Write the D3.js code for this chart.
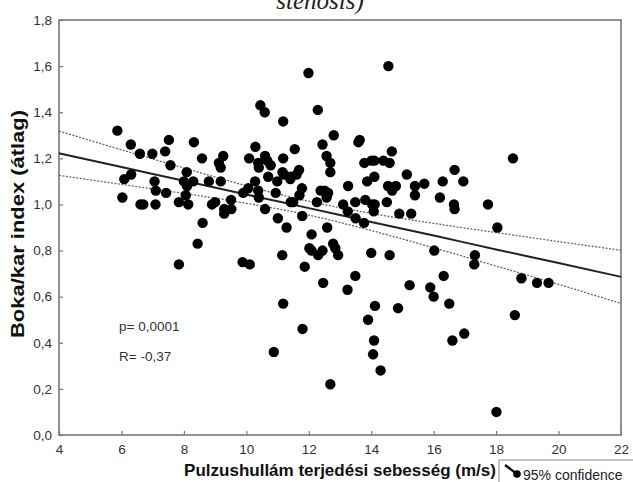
<!DOCTYPE html>
<html>
<head>
<meta charset="utf-8">
<script src="https://cdn.jsdelivr.net/npm/d3@7"></script>
<style>
  body { margin: 0; background: #fff; }
  svg { display: block; }
</style>
</head>
<body>
<script>
// scatter values (velocity m/s, ankle/brachial index)
const pwv = [11.99, 10.45, 10.59, 12.29, 11.18, 5.87, 12.80, 6.30, 7.52, 8.32,
  6.59, 6.99, 7.40, 10.29, 12.44, 13.63, 13.59, 11.55, 8.58, 9.26,
  9.12, 10.09, 10.60, 11.18, 12.57, 7.57, 9.18, 10.38, 10.40, 10.67,
  10.78, 12.69, 12.69, 6.31, 6.09, 8.09, 10.70, 11.16, 11.20, 11.41,
  11.61, 11.69, 11.41, 7.06, 8.00, 8.30, 8.80, 9.18, 10.28, 10.99,
  8.10, 7.10, 7.43, 8.06, 9.90, 10.06, 10.38, 10.40, 10.94, 11.78,
  11.70, 12.38, 12.51, 12.62, 12.57, 13.26, 6.03, 6.61, 6.70, 7.09,
  7.84, 8.14, 8.90, 9.00, 9.51, 9.29, 9.52, 9.29, 10.60, 11.01,
  11.42, 11.50, 11.79, 12.26, 13.10, 13.49, 13.25, 13.50, 8.60, 8.44,
  11.29, 12.09, 12.59, 13.78, 14.01, 14.10, 14.39, 14.59, 14.66, 14.55,
  18.54, 15.14, 14.10, 13.87, 14.54, 14.79, 14.67, 15.40, 15.70, 15.40,
  16.29, 16.67, 16.95, 16.20, 16.65, 16.67, 17.74, 13.81, 14.03, 14.11,
  14.08, 14.50, 14.90, 15.28, 13.77, 18.04, 12.02, 12.09, 12.44, 12.78,
  12.85, 12.94, 12.30, 11.15, 7.84, 9.88, 10.11, 11.87, 13.49, 12.46,
  13.24, 11.18, 11.80, 10.88, 12.69, 14.00, 14.59, 16.02, 17.32, 17.30,
  15.23, 15.89, 16.00, 16.32, 18.81, 19.31, 19.68, 14.12, 14.86, 16.50,
  13.90, 18.60, 14.09, 14.06, 16.98, 16.60, 14.30, 18.01];
const abi = [1.57, 1.43, 1.40, 1.41, 1.36, 1.32, 1.30, 1.26, 1.28, 1.27,
  1.22, 1.22, 1.23, 1.25, 1.26, 1.28, 1.27, 1.24, 1.20, 1.21,
  1.18, 1.20, 1.21, 1.20, 1.21, 1.17, 1.16, 1.18, 1.16, 1.19,
  1.17, 1.18, 1.14, 1.13, 1.11, 1.14, 1.12, 1.14, 1.13, 1.12,
  1.13, 1.15, 1.11, 1.10, 1.10, 1.10, 1.10, 1.10, 1.10, 1.10,
  1.08, 1.06, 1.05, 1.04, 1.05, 1.07, 1.06, 1.03, 1.05, 1.07,
  1.04, 1.06, 1.06, 1.05, 1.03, 1.08, 1.03, 1.00, 1.00, 1.00,
  1.01, 1.00, 1.00, 1.01, 1.02, 0.98, 0.98, 0.96, 0.98, 0.94,
  1.01, 1.01, 0.95, 1.01, 1.00, 1.01, 0.97, 0.94, 0.92, 0.83,
  0.90, 0.87, 0.90, 1.18, 1.19, 1.19, 1.19, 1.18, 1.23, 1.60,
  1.20, 1.13, 1.12, 1.10, 1.08, 1.08, 1.06, 1.08, 1.09, 1.04,
  1.10, 1.15, 1.10, 1.03, 1.00, 0.98, 1.00, 1.02, 1.00, 1.00,
  0.97, 1.01, 0.96, 0.96, 0.92, 0.90, 0.81, 0.80, 0.80, 0.83,
  0.81, 0.78, 0.78, 0.78, 0.74, 0.75, 0.74, 0.73, 0.69, 0.66,
  0.63, 0.57, 0.46, 0.36, 0.22, 0.79, 0.78, 0.80, 0.78, 0.74,
  0.65, 0.64, 0.60, 0.69, 0.68, 0.66, 0.66, 0.56, 0.55, 0.57,
  0.50, 0.52, 0.41, 0.35, 0.44, 0.41, 0.28, 0.10];

// regression line and 95% band
const fitX = [4, 6, 8, 10, 12, 14, 16, 18, 20, 22];
const fitY = [1.222, 1.162, 1.103, 1.043, 0.984, 0.924, 0.865, 0.805, 0.746, 0.686];
const ciUpper = [1.318, 1.237, 1.158, 1.081, 1.014, 0.961, 0.918, 0.878, 0.839, 0.801];
const ciLower = [1.126, 1.087, 1.048, 1.005, 0.954, 0.887, 0.812, 0.733, 0.653, 0.571];

const xTicks = [4, 6, 8, 10, 12, 14, 16, 18, 20, 22];
const yTicks = [0, 0.2, 0.4, 0.6, 0.8, 1.0, 1.2, 1.4, 1.6, 1.8];

const width = 633, height = 482;
const margin = {left: 59, right: 12, top: 20, bottom: 47};
const font = "'Liberation Sans', Arial, sans-serif";
const comma = d => d3.format(".1f")(d).replace(".", ",");

const svg = d3.select("body").append("svg")
    .attr("width", width).attr("height", height);

const x = d3.scaleLinear().domain([4, 22]).range([margin.left, width - margin.right]);
const y = d3.scaleLinear().domain([0, 1.8]).range([height - margin.bottom, margin.top]);

// caption of the figure, its upper half is cut off by the page edge
svg.append("text")
    .attr("x", 320).attr("y", 9)
    .attr("text-anchor", "middle")
    .style("font", "italic 25px 'Liberation Serif', 'Times New Roman', serif")
    .style("fill", "#222")
    .text("stenosis)");

let xAxis = svg.append("g")
    .attr("transform", `translate(0, ${y(0)})`)
    .call(d3.axisBottom(x).tickValues(xTicks).tickSize(-4).tickPadding(9).tickFormat(d3.format("d")));
let yAxis = svg.append("g")
    .attr("transform", `translate(${x(4)}, 0)`)
    .call(d3.axisLeft(y).tickValues(yTicks).tickSize(-4).tickPadding(7).tickFormat(comma));

for (let g of [xAxis, yAxis]) {
    g.select(".domain").remove();
    g.selectAll("line").attr("stroke", "#777").attr("stroke-width", 1.2);
    g.selectAll("text").style("font", `13.5px ${font}`).style("fill", "#333");
}

svg.append("rect")
    .attr("x", x(4)).attr("y", y(1.8))
    .attr("width", x(22) - x(4)).attr("height", y(0) - y(1.8))
    .attr("fill", "none").attr("stroke", "#777").attr("stroke-width", 1.6);

let line = d3.line().x(d => x(d[0])).y(d => y(d[1])).curve(d3.curveMonotoneX);

for (let band of [ciUpper, ciLower]) {
    svg.append("path")
        .datum(d3.zip(fitX, band))
        .attr("d", line)
        .attr("fill", "none")
        .attr("stroke", "#666")
        .attr("stroke-width", 1.3)
        .attr("stroke-dasharray", "2,1.5");
}

svg.append("path")
    .datum(d3.zip(fitX, fitY))
    .attr("d", line)
    .attr("fill", "none")
    .attr("stroke", "#222")
    .attr("stroke-width", 2);

svg.append("g").selectAll("circle")
    .data(d3.zip(pwv, abi))
    .join("circle")
    .attr("cx", d => x(d[0]))
    .attr("cy", d => y(d[1]))
    .attr("r", 5.2)
    .attr("fill", "#000");

svg.append("text")
    .attr("x", 119).attr("y", 331)
    .style("font", `13.5px ${font}`).style("fill", "#333")
    .text("p= 0,0001");
svg.append("text")
    .attr("x", 119).attr("y", 361)
    .style("font", `13.5px ${font}`).style("fill", "#333")
    .text("R= -0,37");

// axis titles
svg.append("text")
    .attr("x", 340).attr("y", 476)
    .attr("text-anchor", "middle")
    .style("font", `bold 17px ${font}`).style("fill", "#111")
    .text("Pulzushullám terjedési sebesség (m/s)");

// the y title is drawn stretched in the original
svg.append("text")
    .attr("transform", `translate(24, 224) rotate(-90)`)
    .attr("text-anchor", "middle")
    .attr("textLength", 228)
    .attr("lengthAdjust", "spacingAndGlyphs")
    .style("font", `bold 18px ${font}`).style("fill", "#111")
    .text("Boka/kar index (átlag)");

// legend box, runs off the lower right edge
let legend = svg.append("g");
legend.append("rect")
    .attr("x", 499).attr("y", 460).attr("width", 150).attr("height", 40)
    .attr("fill", "#fff").attr("stroke", "#888").attr("stroke-width", 1);
legend.append("line")
    .attr("x1", 505).attr("y1", 465).attr("x2", 517).attr("y2", 474)
    .attr("stroke", "#111").attr("stroke-width", 2.5);
legend.append("circle")
    .attr("cx", 517).attr("cy", 474).attr("r", 3.8).attr("fill", "#000");
legend.append("text")
    .attr("x", 523).attr("y", 480)
    .style("font", `14px ${font}`).style("fill", "#222")
    .text("95% confidence");
</script>
</body>
</html>
